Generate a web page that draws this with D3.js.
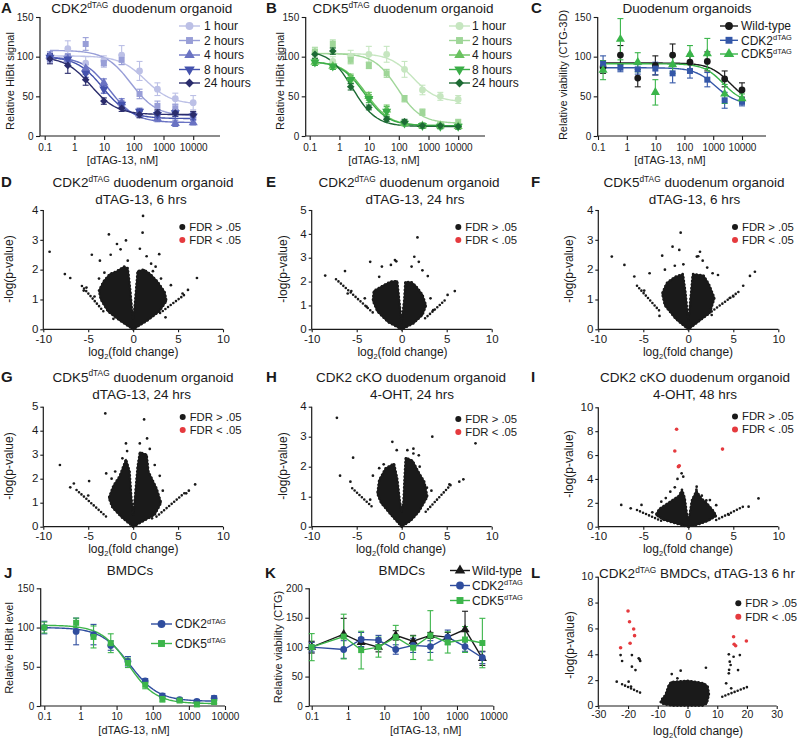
<!DOCTYPE html>
<html><head><meta charset="utf-8">
<script src="https://cdn.jsdelivr.net/npm/d3@7"></script>
<style>body{margin:0;background:#fff}</style>
</head><body>
<script>
// ---------------- DATA ----------------
const orgDoses = [0.15, 0.6, 2.4, 9.8, 39, 156, 625, 2500, 10000];
const timeLabels = ["1 hour", "2 hours", "4 hours", "8 hours", "24 hours"];
const timeShapes = ["circle", "square", "triangle", "tridown", "diamond"];

const cdk2OrgVals = [
  [97, 110, 92, 95, 102, 82, 59, 47, 42],
  [98, 99, 116, 92, 96, 53, 38, 35, 25],
  [101, 97, 85, 67, 42, 28, 22, 16, 17],
  [99, 97, 79, 59, 40, 31, 27, 29, 25],
  [97, 89, 71, 44, 35, 27, 29, 29, 27]];
const cdk2OrgErr = [
  [5, 10, 8, 6, 12, 12, 8, 7, 9],
  [5, 5, 8, 5, 6, 6, 6, 5, 5],
  [5, 5, 5, 5, 5, 4, 4, 4, 3],
  [5, 5, 5, 5, 4, 4, 4, 4, 4],
  [6, 10, 7, 4, 4, 4, 4, 4, 4]];
const cdk2OrgFit = [[101, 40, 250, 1], [108, 25, 80, 1], [100, 17, 15, 1], [100, 22, 9, 1], [100, 27, 3.6, 1]];

const cdk5OrgVals = [
  [105, 94, 100, 103, 103, 84, 58, 50, 46],
  [106, 116, 96, 89, 79, 47, 30, 14, 17],
  [93, 88, 73, 50, 33, 16, 13, 13, 12],
  [93, 88, 71, 47, 31, 16, 13, 12, 12],
  [103, 107, 62, 36, 21, 18, 13, 13, 12]];
const cdk5OrgErr = [
  [7, 6, 8, 10, 10, 10, 6, 5, 5],
  [5, 5, 5, 4, 5, 4, 4, 4, 4],
  [4, 4, 5, 5, 6, 3, 3, 3, 3],
  [4, 4, 5, 5, 6, 3, 3, 3, 3],
  [5, 4, 4, 3, 3, 3, 3, 3, 3]];
const cdk5OrgFit = [[104, 43, 300, 1.1], [104, 16, 90, 1.1], [94, 13, 8, 1.1], [94, 13, 7, 1.1], [108, 12, 2.8, 1.1]];

const viabGroups = ["Wild-type", "CDK2^{dTAG}", "CDK5^{dTAG}"];
const orgViabVals = [
  [87, 102, 73, 89, 102, 93, 94, 72, 58],
  [91, 86, 84, 85, 79, 82, 71, 45, 43],
  [83, 122, 93, 55, 90, 103, 104, 53, 47]];
const orgViabErr = [
  [8, 12, 11, 12, 14, 10, 12, 10, 9],
  [10, 5, 6, 8, 12, 9, 9, 10, 5],
  [12, 26, 12, 16, 11, 11, 19, 12, 6]];
const orgViabFit = [[92, 40, 4000, 1.2], [86, 40, 1200, 1.2], [91, 42, 2200, 1.3]];

const bmdcDoses = [0.1, 0.76, 2.3, 6.9, 20.6, 62, 185, 556, 1667, 5000];
const bmdcHiBitVals = [
  [100, 95, 91, 77, 57, 32, 13, 8, 6, 10],
  [100, 106, 88, 80, 55, 27, 9, 7, 2, 5]];
const bmdcHiBitErr = [
  [8, 17, 13, 6, 6, 3, 3, 2, 2, 3],
  [7, 6, 14, 12, 6, 5, 4, 2, 2, 2]];
const bmdcHiBitFit = [[100, 6, 23, 1.1], [103, 3, 21, 1.15]];

const bmdcViabVals = [
  [100, 122, 108, 100, 120, 110, 120, 117, 130, 81],
  [100, 96, 113, 112, 96, 103, 101, 117, 101, 82],
  [100, 118, 95, 100, 117, 99, 120, 108, 113, 107]];
const bmdcViabErr = [
  [10, 27, 8, 8, 8, 10, 5, 8, 31, 12],
  [8, 15, 12, 8, 8, 12, 10, 12, 8, 10],
  [23, 38, 32, 17, 20, 20, 42, 18, 22, 42]];

const doseTicks = [0.1, 1, 10, 100, 1000, 10000];
const fdrLabels = ["FDR > .05", "FDR < .05"];

// volcano panels: dense core outline, rows of points (arms), individual points, significant points
const dCore = [[0,0],[-1.5,0.3],[-2.8,0.6],[-3.6,1.0],[-3.8,1.3],[-3.3,1.6],[-2.6,1.85],[-1.8,1.95],[-1.0,2.1],[-0.6,2.05],[-0.35,1.4],[-0.15,0.7],[0,0.35],[0.15,0.7],[0.35,1.4],[0.5,1.95],[1.2,2.0],[1.9,1.85],[2.7,1.6],[3.5,1.25],[3.7,0.95],[2.9,0.6],[1.6,0.3]];
const dArms = [[[-5.7,1.45],[-3.3,0.6]],[[3.0,0.55],[5.9,1.2]]];
const dPts = [[-9.3,2.6],[-7.6,1.85],[-7.0,1.72],[-4.6,2.5],[-3.7,2.3],[-2.7,3.18],[-2.5,2.5],[-1.8,2.86],[-1.4,2.68],[-0.8,2.98],[-0.6,2.3],[1.1,3.8],[1.05,3.24],[0.75,2.7],[1.5,2.45],[2.9,2.52],[2.0,2.2],[2.5,2.1],[4.2,1.48],[7.1,1.72],[6.1,1.32],[5.5,1.2],[-5.2,1.4],[-5.5,1.3],[-4.3,1.1],[-2.2,0.35],[3.6,0.4],[-3.8,1.7],[-3.2,1.9],[2.2,1.95],[3.1,1.7]];
const dSig = [];

const eCore = [[0,0],[-1.5,0.3],[-2.7,0.75],[-3.2,1.2],[-3.1,1.6],[-2.0,1.85],[-1.2,2.0],[-0.5,2.02],[-0.3,1.3],[-0.1,0.6],[0,0.3],[0.1,0.6],[0.3,1.3],[0.4,1.98],[1.1,1.97],[1.6,1.8],[2.3,1.45],[2.7,1.0],[2.3,0.6],[1.3,0.25]];
const eArms = [[[-7.3,2.1],[-3.2,0.7]],[[2.6,0.46],[4.9,1.25]]];
const ePts = [[-8.5,2.25],[-6.3,2.44],[-3.5,2.83],[-2.2,2.63],[-1.2,2.7],[-0.75,2.9],[-0.6,2.85],[1.1,2.63],[1.4,3.04],[1.9,2.83],[1.75,3.85],[2.3,2.47],[2.9,2.23],[5.9,1.6],[5.1,1.44],[-5.6,1.6],[-6.0,1.5],[-4.1,1.3],[-3.9,0.95],[3.5,0.8],[-2.5,2.2],[3.2,1.3]];
const eSig = [];

const fCore = [[0,0],[-1.4,0.35],[-2.6,0.8],[-2.9,1.2],[-2.4,1.55],[-1.5,1.75],[-0.6,1.85],[-0.3,1.2],[-0.1,0.55],[0,0.3],[0.1,0.55],[0.3,1.2],[0.5,1.85],[1.7,1.8],[2.3,1.5],[2.9,1.05],[2.4,0.55],[1.3,0.3]];
const fArms = [[[-5.7,1.46],[-3.15,0.6]],[[2.6,0.6],[5.6,1.26]]];
const fPts = [[-8.5,2.44],[-7.1,2.16],[-6.0,1.77],[-4.3,1.88],[-2.9,2.47],[-1.75,2.77],[-0.85,3.24],[-1.0,2.66],[-2.6,2.0],[-1.5,2.13],[-0.55,2.18],[1.3,2.6],[0.95,2.44],[1.6,2.3],[2.1,2.07],[2.7,1.88],[3.3,1.82],[7.4,1.93],[6.85,1.79],[6.1,1.46],[5.0,1.1],[-3.2,0.45],[2.6,0.48],[-4.9,1.3],[4.6,1.05],[1.1,2.45]];
const fSig = [];

const gCore = [[0,0],[-1.3,0.4],[-2.3,0.8],[-2.7,1.2],[-2.2,1.7],[-1.5,2.1],[-0.8,2.8],[-0.4,2.3],[-0.2,1.2],[0,0.5],[0.2,1.2],[0.5,2.5],[0.75,3.1],[1.5,3.0],[1.7,2.3],[2.6,1.6],[3.1,1.0],[2.4,0.5],[1.2,0.25]];
const gArms = [[[-6.3,1.53],[-3.0,0.42]],[[2.6,0.42],[5.9,1.46]]];
const gPts = [[-8.15,2.57],[-7.0,1.64],[-6.6,1.8],[-4.9,1.9],[-3.1,4.72],[-3.0,2.22],[-2.0,2.3],[-0.8,3.47],[-0.67,3.15],[-1.2,2.85],[1.22,4.47],[1.55,3.68],[0.74,3.47],[1.85,3.24],[2.96,2.12],[2.4,2.57],[6.9,1.76],[5.9,1.39],[6.2,1.5],[-5.0,1.3],[-2.4,2.0],[3.3,1.5],[2.1,0.35]];
const gSig = [];

const hCore = [[0,0],[-1.2,0.4],[-2.3,0.8],[-2.7,1.1],[-2.5,1.55],[-1.8,1.94],[-0.85,2.1],[-0.5,1.6],[-0.2,0.83],[0,0.5],[0.2,0.83],[0.35,1.8],[0.45,2.3],[1.2,2.2],[1.9,1.8],[2.5,1.5],[2.85,1.0],[1.9,0.5],[1.0,0.2]];
const hArms = [[[-5.5,1.28],[-3.1,0.61]],[[2.67,0.5],[5.44,1.39]]];
const hPts = [[-7.2,3.63],[-6.85,1.7],[-5.4,2.3],[-5.7,1.5],[-2.0,2.08],[-1.04,2.83],[-0.55,2.55],[-2.5,1.95],[3.4,3.0],[0.63,2.55],[1.3,2.44],[1.9,2.38],[8.2,2.78],[6.85,1.58],[6.4,1.5],[5.3,1.41],[-3.2,1.7],[-3.5,0.9],[2.8,1.3],[3.3,1.2],[2.0,2.0],[1.3,2.6]];
const hSig = [];

const iCore = [[0,0],[-1.5,0.3],[-2.8,0.6],[-3.6,1.0],[-3.2,1.5],[-2.2,2.0],[-1.0,2.6],[-0.7,3.1],[-0.4,2.4],[-0.15,1.0],[0,0.6],[0.15,1.0],[0.4,2.2],[0.9,3.0],[1.4,2.4],[2.0,2.0],[2.8,1.3],[3.1,0.9],[2.2,0.5],[1.1,0.2]];
const iArms = [[[-5.7,1.4],[-2.8,0.42]],[[3.1,0.56],[6.1,1.68]]];
const iPts = [[-7.45,1.82],[-6.4,1.54],[-5.2,1.82],[-0.74,4.47],[-0.56,4.19],[-1.2,4.0],[-2.0,2.93],[-1.5,3.3],[0.93,3.35],[0.9,3.1],[2.4,2.23],[7.8,2.37],[6.7,1.68],[3.1,1.8],[-3.0,2.1],[-2.5,2.4],[1.5,2.6],[2.0,2.2],[-4.0,1.2],[4.5,1.0]];
const iSig = [[-1.3,8.16],[-1.5,6.34],[3.8,6.5],[-1.1,5.03],[-1.0,5.1]];

const lCore = [[-9,0.3],[-8.5,0.55],[-7.4,0.85],[-6.3,1.6],[-5.5,1.85],[-3,1.9],[0,1.95],[3,1.85],[5.5,1.75],[6.8,1.5],[7.2,0.9],[6.5,0.2],[5,0.03],[-5,0.03],[-8,0.15]];
const lArms = [[[-22,1.68],[-15.9,1.03]],[[11.7,0.72],[21,1.55]]];
const lPts = [[-22.5,3.94],[-22,3.48],[-18.7,3.94],[-18.7,3.04],[-17.5,2.78],[-16.4,3.69],[-15.9,3.48],[-16.1,3.6],[-23.8,1.88],[-19.8,1.88],[13.9,4.0],[14.2,3.43],[14.5,3.17],[13.9,2.53],[17.6,3.94],[15.5,3.81],[17.0,2.78],[13.0,1.75],[14.7,1.37],[-5.3,2.47],[-2.3,2.73],[6.2,2.96],[-3.4,2.14],[14.0,2.8],[-19.0,1.5]];
const lSig = [[-20,7.35],[-19.5,6.52],[-18.1,5.95],[-17.8,5.44],[-19.3,4.85],[-22.5,4.5],[15.5,5.36],[15.7,4.77],[16.2,4.66],[19.8,5.03]];

// ---------------- DRAWING ----------------
const FONT = '"Liberation Sans", Arial, Helvetica, sans-serif';
const INK = "#1a1a1a";
const RED = "#e53a3e";
const blues = ["#bcc0e6", "#989ed7", "#6a73c3", "#4452ad", "#2a2c6c"];
const greens = ["#c6e6c0", "#9fd698", "#69c25f", "#3aad47", "#1d6b34"];
const vColors = [INK, "#3457a8", "#3ab54a"];
const bColors = ["#2f4d9e", "#3cb54a"];

const svg = d3.select("body").append("svg").attr("width", 799).attr("height", 739)
  .style("font-family", FONT).style("background", "#fff");

function rich(sel, str, fs) {
  const parts = str.split(/(\^\{[^}]*\}|_\{[^}]*\})/).filter(s => s.length);
  let back = 0;
  parts.forEach(p => {
    const t = sel.append("tspan");
    if (p.startsWith("^{")) { t.text(p.slice(2, -1)).attr("font-size", fs * 0.62).attr("dy", -fs * 0.38); back = fs * 0.38; }
    else if (p.startsWith("_{")) { t.text(p.slice(2, -1)).attr("font-size", fs * 0.62).attr("dy", fs * 0.25); back = -fs * 0.25; }
    else { t.text(p); if (back) { t.attr("dy", back); back = 0; } }
  });
}
function label(x, y, str, fs, o = {}) {
  const t = svg.append("text").attr("x", x).attr("y", y).attr("font-size", fs)
    .attr("fill", o.fill || INK).attr("text-anchor", o.anchor || "middle").attr("font-family", FONT);
  if (o.weight) t.attr("font-weight", o.weight);
  if (o.rotate) t.attr("transform", `rotate(-90,${x},${y})`);
  if (o.dy) t.attr("dy", o.dy);
  rich(t, str, fs);
  return t;
}
function styleAxis(a, fs) {
  a.attr("font-family", FONT).attr("font-size", fs);
  a.selectAll("text").attr("fill", INK);
  a.selectAll("line").attr("stroke", INK).attr("stroke-width", 1.1);
  a.select(".domain").remove();
}
function symPath(shape, size) {
  const t = { circle: d3.symbolCircle, square: d3.symbolSquare, triangle: d3.symbolTriangle, tridown: d3.symbolTriangle, diamond: d3.symbolSquare }[shape];
  return d3.symbol().type(t).size(shape === "diamond" ? size * 0.8 : size)();
}
function symRot(shape) { return shape === "tridown" ? 180 : shape === "diamond" ? 45 : 0; }
function marker(g, shape, cx, cy, size, color) {
  g.append("path").attr("d", symPath(shape, size)).attr("fill", color)
    .attr("transform", `translate(${cx},${cy}) rotate(${symRot(shape)})`);
}

function dosePanel(c) {
  const x = d3.scaleLog().domain([0.1, 10000]).range(c.xr);
  const y = d3.scaleLinear().domain([0, c.ymax]).range(c.yr);
  const g = svg.append("g");
  const xa = g.append("g").attr("transform", `translate(0,${c.yr[0]})`)
    .call(d3.axisBottom(x).tickValues(doseTicks).tickFormat(d => String(d)).tickSize(4).tickPadding(c.xpad));
  styleAxis(xa, 10);
  const ya = g.append("g").attr("transform", `translate(${c.ax},0)`)
    .call(d3.axisLeft(y).tickValues(c.yticks).tickSize(4).tickPadding(2.5));
  styleAxis(ya, 10);
  g.append("line").attr("x1", c.ax).attr("x2", c.axEnd).attr("y1", c.yr[0]).attr("y2", c.yr[0]).attr("stroke", INK).attr("stroke-width", 1.2);
  g.append("line").attr("x1", c.ax).attr("x2", c.ax).attr("y1", c.yr[0]).attr("y2", c.yr[1]).attr("stroke", INK).attr("stroke-width", 1.2);

  c.series.forEach(s => {
    const lo = Math.log10(c.doses[0]), hi = Math.log10(c.doses[c.doses.length - 1]);
    if (s.fit) {
      const [top, bot, ec, h] = s.fit;
      const xs = d3.range(0, 121).map(i => Math.pow(10, lo + (hi - lo) * i / 120));
      g.append("path").datum(xs).attr("fill", "none").attr("stroke", s.color).attr("stroke-width", 1.4)
        .attr("d", d3.line().x(d => x(d)).y(d => y(bot + (top - bot) / (1 + Math.pow(d / ec, h)))));
    } else {
      g.append("path").datum(s.vals).attr("fill", "none").attr("stroke", s.color).attr("stroke-width", 1.4)
        .attr("d", d3.line().x((d, i) => x(c.doses[i])).y(d => y(d)));
    }
    s.vals.forEach((v, i) => {
      const cx = x(c.doses[i]), e = s.err[i];
      g.append("line").attr("x1", cx).attr("x2", cx).attr("y1", y(v - e)).attr("y2", y(v + e)).attr("stroke", s.color).attr("stroke-width", 1.1);
      [v - e, v + e].forEach(w => g.append("line").attr("x1", cx - 3).attr("x2", cx + 3).attr("y1", y(w)).attr("y2", y(w)).attr("stroke", s.color).attr("stroke-width", 1.1));
    });
  });
  c.series.forEach(s => s.vals.forEach((v, i) => marker(g, s.shape, x(c.doses[i]), y(v), c.msize || 36, s.color)));

  // legend
  c.series.forEach((s, i) => {
    const ly = c.leg.ys[i];
    g.append("line").attr("x1", c.leg.x1).attr("x2", c.leg.x2).attr("y1", ly).attr("y2", ly).attr("stroke", s.color).attr("stroke-width", 1.4);
    marker(g, s.shape, (c.leg.x1 + c.leg.x2) / 2, ly, 48, s.color);
    label(c.leg.tx, ly, s.name, 12, { anchor: "start", dy: "0.35em" });
  });
}

function volcano(c) {
  const x = d3.scaleLinear().domain(c.xd).range(c.xr);
  const y = d3.scaleLinear().domain([0, c.ymax]).range(c.yr);
  const g = svg.append("g");
  const xa = g.append("g").attr("transform", `translate(0,${c.yr[0]})`)
    .call(d3.axisBottom(x).tickValues(c.xticks).tickFormat(d => String(d)).tickSize(3).tickPadding(c.xpad));
  styleAxis(xa, c.fs);
  const ya = g.append("g").attr("transform", `translate(${c.xr[0]},0)`)
    .call(d3.axisLeft(y).tickValues(c.yticks).tickFormat(d => String(d)).tickSize(3).tickPadding(2));
  styleAxis(ya, c.fs);
  ya.selectAll("text").attr("dy", "0.28em");
  g.append("line").attr("x1", c.xr[0]).attr("x2", c.xr[1]).attr("y1", c.yr[0]).attr("y2", c.yr[0]).attr("stroke", INK).attr("stroke-width", 1.2);
  g.append("line").attr("x1", c.xr[0]).attr("x2", c.xr[0]).attr("y1", c.yr[0]).attr("y2", c.yr[1]).attr("stroke", INK).attr("stroke-width", 1.2);

  const coreLine = d3.line().x(d => x(d[0])).y(d => y(d[1])).curve(d3.curveLinearClosed);
  g.append("path").datum(c.core).attr("fill", INK).attr("stroke", INK).attr("stroke-width", 1.5).attr("stroke-linejoin", "round")
    .attr("d", coreLine);
  // beaded edge: points scattered along the dense region's boundary
  g.append("path").datum(c.core).attr("fill", "none").attr("stroke", INK).attr("stroke-width", 2.7)
    .attr("stroke-linecap", "round").attr("stroke-dasharray", "0 3.6").attr("d", coreLine);
  c.arms.forEach(a => g.append("line").attr("x1", x(a[0][0])).attr("y1", y(a[0][1])).attr("x2", x(a[1][0])).attr("y2", y(a[1][1]))
    .attr("stroke", INK).attr("stroke-width", 2.6).attr("stroke-linecap", "round").attr("stroke-dasharray", "0 3.3"));
  g.selectAll(null).data(c.pts).enter().append("circle").attr("cx", d => x(d[0])).attr("cy", d => y(d[1])).attr("r", 1.35).attr("fill", INK);
  g.selectAll(null).data(c.sig).enter().append("circle").attr("cx", d => x(d[0])).attr("cy", d => y(d[1])).attr("r", 1.8).attr("fill", RED);

  [INK, RED].forEach((col, i) => {
    g.append("circle").attr("cx", c.leg.x).attr("cy", c.leg.ys[i]).attr("r", 3).attr("fill", col);
    label(c.leg.x + 7, c.leg.ys[i], fdrLabels[i], 11.3, { anchor: "start", dy: "0.35em" });
  });
}

// ---- Panels A, B, C ----
dosePanel({ ax: 40, axEnd: 220, xr: [44.7, 193.2], yr: [136, 17], ymax: 150, yticks: [0, 50, 100, 150], xpad: 4, doses: orgDoses,
  series: cdk2OrgVals.map((v, i) => ({ vals: v, err: cdk2OrgErr[i], fit: cdk2OrgFit[i], color: blues[i], shape: timeShapes[i], name: timeLabels[i] })),
  leg: { x1: 179, x2: 200, tx: 204, ys: [26, 40.5, 55, 69.5, 83] } });
dosePanel({ ax: 305.7, axEnd: 485, xr: [309.7, 458.2], yr: [136, 17], ymax: 150, yticks: [0, 50, 100, 150], xpad: 4, doses: orgDoses,
  series: cdk5OrgVals.map((v, i) => ({ vals: v, err: cdk5OrgErr[i], fit: cdk5OrgFit[i], color: greens[i], shape: timeShapes[i], name: timeLabels[i] })),
  leg: { x1: 449, x2: 470, tx: 472, ys: [26, 40.5, 55, 69.5, 83] } });
dosePanel({ ax: 597.7, axEnd: 766, xr: [598, 742], yr: [136, 17], ymax: 150, yticks: [0, 50, 100, 150], xpad: 4, doses: orgDoses,
  series: orgViabVals.map((v, i) => ({ vals: v, err: orgViabErr[i], fit: orgViabFit[i], color: vColors[i], shape: ["circle", "square", "triangle"][i], name: viabGroups[i] })),
  leg: { x1: 720, x2: 738, tx: 741, ys: [26, 40.3, 54] } });

// ---- Panels J, K ----
dosePanel({ ax: 40.7, axEnd: 225, xr: [44.3, 225], yr: [706, 588.3], ymax: 150, yticks: [0, 50, 100, 150], xpad: 3, doses: bmdcDoses,
  series: bmdcHiBitVals.map((v, i) => ({ vals: v, err: bmdcHiBitErr[i], fit: bmdcHiBitFit[i], color: bColors[i], shape: ["circle", "square"][i], name: viabGroups[i + 1] })),
  leg: { x1: 151, x2: 172, tx: 175, ys: [624, 643.5] } });
dosePanel({ ax: 309.3, axEnd: 493.3, xr: [311.7, 493.3], yr: [706, 588.3], ymax: 200, yticks: [0, 50, 100, 150, 200], xpad: 3, doses: bmdcDoses,
  series: bmdcViabVals.map((v, i) => ({ vals: v, err: bmdcViabErr[i], fit: null, color: [INK, bColors[0], bColors[1]][i], shape: ["triangle", "circle", "square"][i], name: viabGroups[i] })),
  leg: { x1: 450, x2: 470, tx: 472, ys: [570.5, 585.5, 600.5] } });

// ---- Volcano panels ----
const vt = [-10, -5, 0, 5, 10];
volcano({ xd: [-10, 10], xr: [43.3, 223], yr: [329.3, 210], ymax: 4, xticks: vt, yticks: [0, 1, 2, 3, 4], fs: 11.5, xpad: 2.3, core: dCore, arms: dArms, pts: dPts, sig: dSig, leg: { x: 182.3, ys: [227, 240] } });
volcano({ xd: [-10, 10], xr: [311.7, 491.7], yr: [329.3, 210], ymax: 5, xticks: vt, yticks: [0, 1, 2, 3, 4, 5], fs: 11.5, xpad: 2.3, core: eCore, arms: eArms, pts: ePts, sig: eSig, leg: { x: 458.3, ys: [227, 240] } });
volcano({ xd: [-10, 10], xr: [598.3, 778.3], yr: [329.3, 210], ymax: 4, xticks: vt, yticks: [0, 1, 2, 3, 4], fs: 11.5, xpad: 2.3, core: fCore, arms: fArms, pts: fPts, sig: fSig, leg: { x: 735, ys: [227, 240] } });
volcano({ xd: [-10, 10], xr: [43.3, 223], yr: [526.7, 406.7], ymax: 5, xticks: vt, yticks: [0, 1, 2, 3, 4, 5], fs: 11.5, xpad: 2.3, core: gCore, arms: gArms, pts: gPts, sig: gSig, leg: { x: 182.7, ys: [417, 430] } });
volcano({ xd: [-10, 10], xr: [311.7, 491.7], yr: [526.7, 406.7], ymax: 4, xticks: vt, yticks: [0, 1, 2, 3, 4], fs: 11.5, xpad: 2.3, core: hCore, arms: hArms, pts: hPts, sig: hSig, leg: { x: 458.3, ys: [419, 432] } });
volcano({ xd: [-10, 10], xr: [598.3, 778.3], yr: [526.7, 407.3], ymax: 10, xticks: vt, yticks: [0, 2, 4, 6, 8, 10], fs: 11.5, xpad: 2.3, core: iCore, arms: iArms, pts: iPts, sig: iSig, leg: { x: 735, ys: [416.5, 429.5] } });
volcano({ xd: [-30, 30], xr: [598.3, 776.7], yr: [706, 576.7], ymax: 10, xticks: [-30, -20, -10, 0, 10, 20, 30], yticks: [0, 2, 4, 6, 8, 10], fs: 10.5, xpad: 2, core: lCore, arms: lArms, pts: lPts, sig: lSig, leg: { x: 738.3, ys: [603.3, 616.7] } });

// ---- Titles ----
const TF = 13.5;
label(141.7, 13, "CDK2^{dTAG} duodenum organoid", TF);
label(403, 13, "CDK5^{dTAG} duodenum organoid", TF);
label(687, 13, "Duodenum organoids", TF);
label(143, 187, "CDK2^{dTAG} duodenum organoid", TF); label(141, 204, "dTAG-13, 6 hrs", TF);
label(409, 187, "CDK2^{dTAG} duodenum organoid", TF); label(415, 204, "dTAG-13, 24 hrs", TF);
label(694, 187, "CDK5^{dTAG} duodenum organoid", TF); label(694.5, 204, "dTAG-13, 6 hrs", TF);
label(143, 381.5, "CDK5^{dTAG} duodenum organoid", TF); label(141.7, 398.5, "dTAG-13, 24 hrs", TF);
label(411, 381.5, "CDK2 cKO duodenum organoid", TF); label(412, 398.5, "4-OHT, 24 hrs", TF);
label(695, 381.5, "CDK2 cKO duodenum organoid", TF); label(695, 398.5, "4-OHT, 48 hrs", TF);
label(130, 575, "BMDCs", TF);
label(401.7, 575, "BMDCs", TF);
label(697, 578, "CDK2^{dTAG} BMDCs, dTAG-13 6 hr", TF);

// ---- Panel letters ----
[["A", 1, 13], ["B", 266, 13], ["C", 531, 13], ["D", 1, 187], ["E", 266, 187], ["F", 531, 187],
 ["G", 1, 381.5], ["H", 266, 381.5], ["I", 531, 381.5], ["J", 4, 578], ["K", 265, 578], ["L", 531, 578]]
  .forEach(([t, x, y]) => label(x, y, t, 15, { anchor: "start", weight: "bold" }));

// ---- Axis titles ----
const AF = 11;
label(10, 81, "Relative HiBit signal", AF, { rotate: true, dy: "0.35em" });
label(280, 81, "Relative HiBit signal", AF, { rotate: true, dy: "0.35em" });
label(563, 75, "Relative viability (CTG-3D)", AF, { rotate: true, dy: "0.35em" });
label(122.5, 164, "[dTAG-13, nM]", AF);
label(384, 164, "[dTAG-13, nM]", AF);
label(670, 164, "[dTAG-13, nM]", AF);
const VF = 12;
[[9, 269], [282.5, 269], [569, 269], [9, 466], [282.5, 466], [569, 464], [570, 645]]
  .forEach(([x, y]) => label(x, y, "-log(p-value)", VF, { rotate: true, dy: "0.35em" }));
[[133.3, 355.5], [402.5, 355.5], [688, 355.5], [133.3, 552.5], [401, 552.5], [688, 552.5], [698, 734.5]]
  .forEach(([x, y]) => label(x, y, "log_{2}(fold change)", VF));
label(9, 648, "Relative HiBit level", AF, { rotate: true, dy: "0.35em" });
label(278, 647, "Relative viability (CTG)", AF, { rotate: true, dy: "0.35em" });
label(134, 734, "[dTAG-13, nM]", AF);
label(425.7, 734, "[dTAG-13, nM]", AF);
</script>
</body></html>
